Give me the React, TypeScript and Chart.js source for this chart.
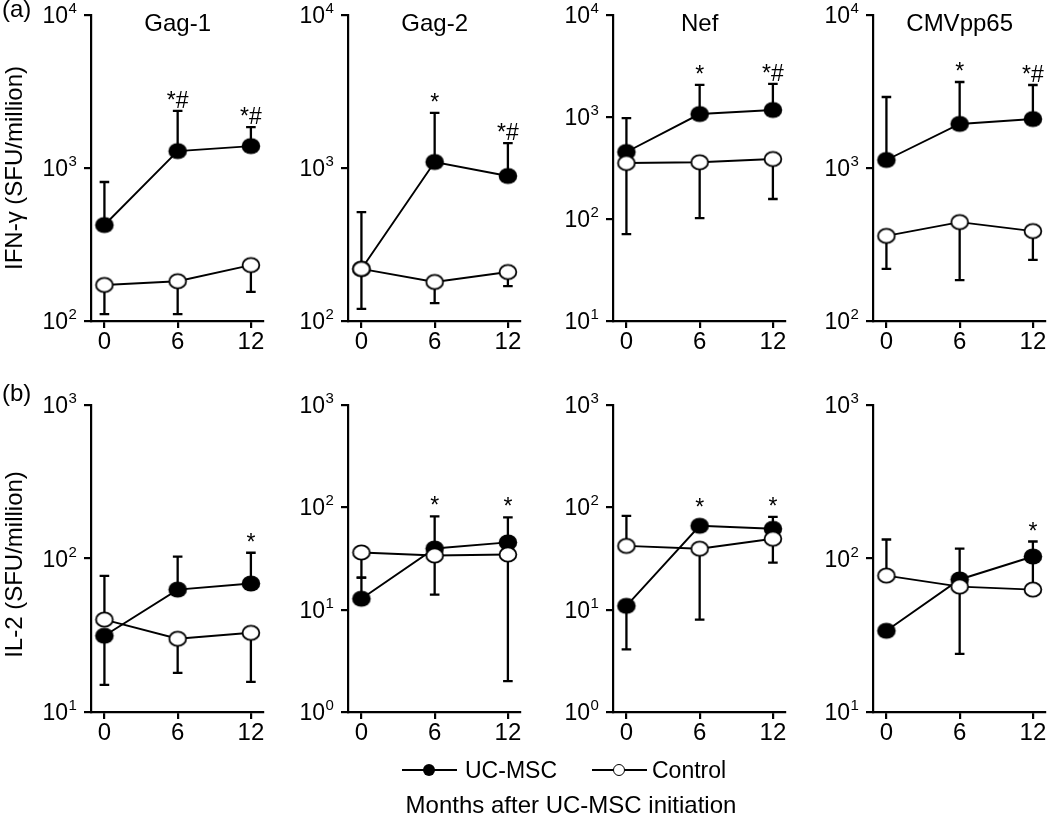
import React, { useEffect, useRef } from "react";
import { Chart, registerables } from "chart.js";

Chart.register(...registerables);

const FONT = '"Liberation Sans", Arial, Helvetica, sans-serif';

// ---------- shared categories / labels ----------
const months = [0, 6, 12];
const xTickLabels = ["0", "6", "12"];
const panelTitles = ["Gag-1", "Gag-2", "Nef", "CMVpp65"];
const rowLabels = ["(a)", "(b)"];
const rowAxisTitles = ["IFN-\u03b3 (SFU/million)", "IL-2 (SFU/million)"];
const seriesNames = ["UC-MSC", "Control"];
const xAxisTitle = "Months after UC-MSC initiation";

// ---------- (a) IFN-γ ----------
const ifnGag1Range = [100, 10000];
const ifnGag1Uc = [424, 1290, 1390];
const ifnGag1UcUpper = [810, 2360, 1850];
const ifnGag1UcLower = [null, null, null];
const ifnGag1Ctrl = [172, 182, 232];
const ifnGag1CtrlUpper = [null, null, null];
const ifnGag1CtrlLower = [111, 111, 155];
const ifnGag1Marks = ["", "*#", "*#"];

const ifnGag2Range = [100, 10000];
const ifnGag2Uc = [219, 1095, 887];
const ifnGag2UcUpper = [515, 2290, 1455];
const ifnGag2UcLower = [null, null, null];
const ifnGag2Ctrl = [219, 180, 209];
const ifnGag2CtrlUpper = [null, null, null];
const ifnGag2CtrlLower = [120, 131, 169];
const ifnGag2Marks = ["", "*", "*#"];

const ifnNefRange = [10, 10000];
const ifnNefUc = [454, 1069, 1172];
const ifnNefUcUpper = [977, 2061, 2108];
const ifnNefUcLower = [null, null, null];
const ifnNefCtrl = [354, 360, 387];
const ifnNefCtrlUpper = [null, null, null];
const ifnNefCtrlLower = [71, 102, 157];
const ifnNefMarks = ["", "*", "*#"];

const ifnCmvRange = [100, 10000];
const ifnCmvUc = [1128, 1941, 2089];
const ifnCmvUcUpper = [2910, 3648, 3486];
const ifnCmvUcLower = [null, null, null];
const ifnCmvCtrl = [360, 443, 387];
const ifnCmvCtrlUpper = [null, null, null];
const ifnCmvCtrlLower = [219, 185, 251];
const ifnCmvMarks = ["", "*", "*#"];

// ---------- (b) IL-2 ----------
const il2Gag1Range = [10, 1000];
const il2Gag1Uc = [31.4, 62.7, 68.7];
const il2Gag1UcUpper = [null, 103, 109];
const il2Gag1UcLower = [15, null, null];
const il2Gag1Ctrl = [40, 30, 32.8];
const il2Gag1CtrlUpper = [77, null, null];
const il2Gag1CtrlLower = [null, 18, 15.7];
const il2Gag1Marks = ["", "", "*"];

const il2Gag2Range = [1, 1000];
const il2Gag2Uc = [12.8, 39.6, 45.4];
const il2Gag2UcUpper = [20.6, 81.7, 79.8];
const il2Gag2UcLower = [null, null, null];
const il2Gag2Ctrl = [36.2, 33.8, 34.6];
const il2Gag2CtrlUpper = [null, null, null];
const il2Gag2CtrlLower = [20.6, 14, 2];
const il2Gag2Marks = ["", "*", "*"];

const il2NefRange = [1, 1000];
const il2NefUc = [10.9, 66, 61.7];
const il2NefUcUpper = [null, null, 80.7];
const il2NefUcLower = [4.1, null, null];
const il2NefCtrl = [42, 39.4, 49.3];
const il2NefCtrlUpper = [82.6, null, null];
const il2NefCtrlLower = [null, 8, 28.8];
const il2NefMarks = ["", "*", "*"];

const il2CmvRange = [10, 1000];
const il2CmvUc = [33.8, 73, 103];
const il2CmvUcUpper = [null, 116, 129];
const il2CmvUcLower = [null, null, null];
const il2CmvCtrl = [77.4, 65.6, 62.7];
const il2CmvCtrlUpper = [133, null, 100];
const il2CmvCtrlLower = [null, 23.9, null];
const il2CmvMarks = ["", "", "*"];

// ---------- layout constants ----------
const AXIS_W = 90;
const AXIS_H = 45;
const PAD_TOP = 32;
const PAD_RIGHT = 8;
const AREA_W = 175;
const COL_LEFT = [91, 348, 613, 873];
const ROW_TOP = [15, 405];
const ROW_H = [306, 307];
const X_MIN = -1.1;
const X_MAX = 13;

type Arr = (number | null)[];
type PanelCfg = {
  row: number;
  col: number;
  range: number[];
  uc: number[];
  ucUpper: Arr;
  ucLower: Arr;
  ctrl: number[];
  ctrlUpper: Arr;
  ctrlLower: Arr;
  marks: string[];
};

const panels: PanelCfg[] = [
  { row: 0, col: 0, range: ifnGag1Range, uc: ifnGag1Uc, ucUpper: ifnGag1UcUpper, ucLower: ifnGag1UcLower, ctrl: ifnGag1Ctrl, ctrlUpper: ifnGag1CtrlUpper, ctrlLower: ifnGag1CtrlLower, marks: ifnGag1Marks },
  { row: 0, col: 1, range: ifnGag2Range, uc: ifnGag2Uc, ucUpper: ifnGag2UcUpper, ucLower: ifnGag2UcLower, ctrl: ifnGag2Ctrl, ctrlUpper: ifnGag2CtrlUpper, ctrlLower: ifnGag2CtrlLower, marks: ifnGag2Marks },
  { row: 0, col: 2, range: ifnNefRange, uc: ifnNefUc, ucUpper: ifnNefUcUpper, ucLower: ifnNefUcLower, ctrl: ifnNefCtrl, ctrlUpper: ifnNefCtrlUpper, ctrlLower: ifnNefCtrlLower, marks: ifnNefMarks },
  { row: 0, col: 3, range: ifnCmvRange, uc: ifnCmvUc, ucUpper: ifnCmvUcUpper, ucLower: ifnCmvUcLower, ctrl: ifnCmvCtrl, ctrlUpper: ifnCmvCtrlUpper, ctrlLower: ifnCmvCtrlLower, marks: ifnCmvMarks },
  { row: 1, col: 0, range: il2Gag1Range, uc: il2Gag1Uc, ucUpper: il2Gag1UcUpper, ucLower: il2Gag1UcLower, ctrl: il2Gag1Ctrl, ctrlUpper: il2Gag1CtrlUpper, ctrlLower: il2Gag1CtrlLower, marks: il2Gag1Marks },
  { row: 1, col: 1, range: il2Gag2Range, uc: il2Gag2Uc, ucUpper: il2Gag2UcUpper, ucLower: il2Gag2UcLower, ctrl: il2Gag2Ctrl, ctrlUpper: il2Gag2CtrlUpper, ctrlLower: il2Gag2CtrlLower, marks: il2Gag2Marks },
  { row: 1, col: 2, range: il2NefRange, uc: il2NefUc, ucUpper: il2NefUcUpper, ucLower: il2NefUcLower, ctrl: il2NefCtrl, ctrlUpper: il2NefCtrlUpper, ctrlLower: il2NefCtrlLower, marks: il2NefMarks },
  { row: 1, col: 3, range: il2CmvRange, uc: il2CmvUc, ucUpper: il2CmvUcUpper, ucLower: il2CmvUcLower, ctrl: il2CmvCtrl, ctrlUpper: il2CmvCtrlUpper, ctrlLower: il2CmvCtrlLower, marks: il2CmvMarks },
];

function makeMarker(filled: boolean): HTMLCanvasElement {
  const c = document.createElement("canvas");
  c.width = 22;
  c.height = 19;
  const g = c.getContext("2d")!;
  g.beginPath();
  if (filled) {
    g.ellipse(11, 9.5, 9.3, 8.0, 0, 0, Math.PI * 2);
    g.fillStyle = "#000";
    g.fill();
  } else {
    g.ellipse(11, 9.5, 8.4, 7.1, 0, 0, Math.PI * 2);
    g.fillStyle = "#fff";
    g.fill();
    g.lineWidth = 1.8;
    g.strokeStyle = "#000";
    g.stroke();
  }
  return c;
}

function drawText(
  ctx: CanvasRenderingContext2D,
  s: string,
  x: number,
  y: number,
  size: number,
  align: CanvasTextAlign,
  baseline: CanvasTextBaseline
) {
  ctx.font = `${size}px ${FONT}`;
  ctx.textAlign = align;
  ctx.textBaseline = baseline;
  ctx.fillStyle = "#000";
  ctx.fillText(s, x, y);
}

function makeDecor(cfg: PanelCfg) {
  return {
    id: "decor",
    beforeDatasetsDraw(chart: any) {
      const ctx: CanvasRenderingContext2D = chart.ctx;
      const xs = chart.scales.x;
      const ys = chart.scales.y;
      ctx.save();
      ctx.strokeStyle = "#000";
      ctx.lineWidth = 2.3;
      const groups = [
        { v: cfg.uc, bars: [cfg.ucUpper, cfg.ucLower] },
        { v: cfg.ctrl, bars: [cfg.ctrlUpper, cfg.ctrlLower] },
      ];
      for (const gp of groups) {
        months.forEach((m, i) => {
          const x = xs.getPixelForValue(m);
          const y0 = ys.getPixelForValue(gp.v[i]);
          for (const arr of gp.bars) {
            const e = arr[i];
            if (e == null) continue;
            const y1 = ys.getPixelForValue(e);
            ctx.beginPath();
            ctx.moveTo(x, y0);
            ctx.lineTo(x, y1);
            ctx.moveTo(x - 4.8, y1);
            ctx.lineTo(x + 4.8, y1);
            ctx.stroke();
          }
        });
      }
      ctx.restore();
    },
    afterDraw(chart: any) {
      const ctx: CanvasRenderingContext2D = chart.ctx;
      const xs = chart.scales.x;
      const ys = chart.scales.y;
      const area = chart.chartArea;
      ctx.save();
      // x tick labels
      months.forEach((m, i) => {
        drawText(ctx, xTickLabels[i], xs.getPixelForValue(m), area.bottom + 9, 24, "center", "top");
      });
      // y tick labels 10^n
      ys.ticks.forEach((t: any) => {
        const y = ys.getPixelForValue(t.value);
        const exp = String(Math.round(Math.log10(t.value)));
        const ex = area.left - 23;
        drawText(ctx, "10", ex, y + 8, 23, "right", "alphabetic");
        drawText(ctx, exp, ex + 0.5, y - 2, 15, "left", "alphabetic");
      });
      // significance marks
      months.forEach((m, i) => {
        const s = cfg.marks[i];
        if (!s) return;
        const cands: number[] = [ys.getPixelForValue(cfg.uc[i]) - 8, ys.getPixelForValue(cfg.ctrl[i]) - 8];
        const u1 = cfg.ucUpper[i];
        const u2 = cfg.ctrlUpper[i];
        if (u1 != null) cands.push(ys.getPixelForValue(u1));
        if (u2 != null) cands.push(ys.getPixelForValue(u2));
        const top = Math.min(...cands);
        drawText(ctx, s, xs.getPixelForValue(m), top - 3, 23, "center", "alphabetic");
      });
      // panel title (top row)
      if (cfg.row === 0) {
        drawText(ctx, panelTitles[cfg.col], xs.getPixelForValue(6), area.top + 9, 24, "center", "middle");
      }
      // row label + axis title (first column)
      if (cfg.col === 0) {
        drawText(ctx, rowLabels[cfg.row], 1, area.top + (cfg.row === 0 ? 2 : -4), 24, "left", "alphabetic");
        ctx.save();
        ctx.translate(14, (area.top + area.bottom) / 2 + (cfg.row === 1 ? 6 : 0));
        ctx.rotate(-Math.PI / 2);
        drawText(ctx, rowAxisTitles[cfg.row], 0, 0, 24, "center", "middle");
        ctx.restore();
      }
      ctx.restore();
    },
  };
}

function Panel({ cfg }: { cfg: PanelCfg }) {
  const ref = useRef<HTMLCanvasElement>(null);
  const W = AXIS_W + AREA_W + PAD_RIGHT;
  const H = PAD_TOP + ROW_H[cfg.row] + AXIS_H;
  useEffect(() => {
    const filled = makeMarker(true);
    const open = makeMarker(false);
    const [yMin, yMax] = cfg.range;
    const axisCommon = {
      grid: {
        display: true,
        drawOnChartArea: false,
        drawTicks: true,
        tickLength: 7,
        color: "#000",
        tickColor: "#000",
        lineWidth: 2.2,
        tickWidth: 2.2,
      },
      border: { display: true, color: "#000", width: 2.2 },
      ticks: { display: false },
    };
    const chart = new Chart(ref.current!, {
      type: "line",
      data: {
        datasets: [
          {
            label: seriesNames[1],
            data: months.map((m, i) => ({ x: m, y: cfg.ctrl[i] })),
            borderColor: "#000",
            borderWidth: 1.9,
            pointStyle: open as any,
            pointRadius: 9,
            pointHoverRadius: 9,
            tension: 0,
            fill: false,
            order: 0,
            clip: false as any,
          },
          {
            label: seriesNames[0],
            data: months.map((m, i) => ({ x: m, y: cfg.uc[i] })),
            borderColor: "#000",
            borderWidth: 1.9,
            pointStyle: filled as any,
            pointRadius: 9,
            pointHoverRadius: 9,
            tension: 0,
            fill: false,
            order: 1,
            clip: false as any,
          },
        ],
      },
      options: {
        animation: false,
        responsive: false,
        maintainAspectRatio: false,
        events: [],
        layout: { padding: { top: PAD_TOP, right: PAD_RIGHT, left: 0, bottom: 0 } },
        plugins: {
          legend: { display: false },
          tooltip: { enabled: false },
          title: { display: false },
        },
        scales: {
          x: {
            type: "linear",
            min: X_MIN,
            max: X_MAX,
            afterBuildTicks: (s: any) => {
              s.ticks = months.map((v) => ({ value: v }));
            },
            afterFit: (s: any) => {
              s.height = AXIS_H;
            },
            ...axisCommon,
          },
          y: {
            type: "logarithmic",
            min: yMin,
            max: yMax,
            afterBuildTicks: (s: any) => {
              const t: { value: number }[] = [];
              for (let e = Math.round(Math.log10(yMin)); e <= Math.round(Math.log10(yMax)); e++) {
                t.push({ value: Math.pow(10, e) });
              }
              s.ticks = t;
            },
            afterFit: (s: any) => {
              s.width = AXIS_W;
            },
            ...axisCommon,
          },
        } as any,
      },
      plugins: [makeDecor(cfg) as any],
    });
    return () => chart.destroy();
  }, [cfg]);
  return (
    <canvas
      ref={ref}
      width={W}
      height={H}
      style={{
        position: "absolute",
        left: COL_LEFT[cfg.col] - AXIS_W,
        top: ROW_TOP[cfg.row] - PAD_TOP,
        width: W,
        height: H,
      }}
    />
  );
}

function LegendMarker({ left, filled }: { left: number; filled: boolean }) {
  return (
    <>
      <div style={{ position: "absolute", left, top: 769, width: 55, height: 2.2, background: "#000" }} />
      <div
        style={{
          position: "absolute",
          left: left + 21,
          top: 764,
          width: 12,
          height: 12,
          borderRadius: "50%",
          boxSizing: "border-box",
          background: filled ? "#000" : "#fff",
          border: filled ? "none" : "1.5px solid #000",
        }}
      />
    </>
  );
}

export default function App() {
  return (
    <div
      style={{
        position: "absolute",
        left: 0,
        top: 0,
        width: 1050,
        height: 819,
        overflow: "hidden",
        background: "#fff",
        fontFamily: FONT,
        color: "#000",
      }}
    >
      {panels.map((p, i) => (
        <Panel key={i} cfg={p} />
      ))}
      <LegendMarker left={402} filled={true} />
      <div style={{ position: "absolute", left: 465, top: 757, fontSize: 23, lineHeight: "26px", whiteSpace: "nowrap" }}>
        {seriesNames[0]}
      </div>
      <LegendMarker left={592} filled={false} />
      <div style={{ position: "absolute", left: 652, top: 757, fontSize: 23, lineHeight: "26px", whiteSpace: "nowrap" }}>
        {seriesNames[1]}
      </div>
      <div
        style={{
          position: "absolute",
          left: 371,
          width: 400,
          top: 792,
          fontSize: 24,
          lineHeight: "26px",
          textAlign: "center",
          whiteSpace: "nowrap",
        }}
      >
        {xAxisTitle}
      </div>
    </div>
  );
}
